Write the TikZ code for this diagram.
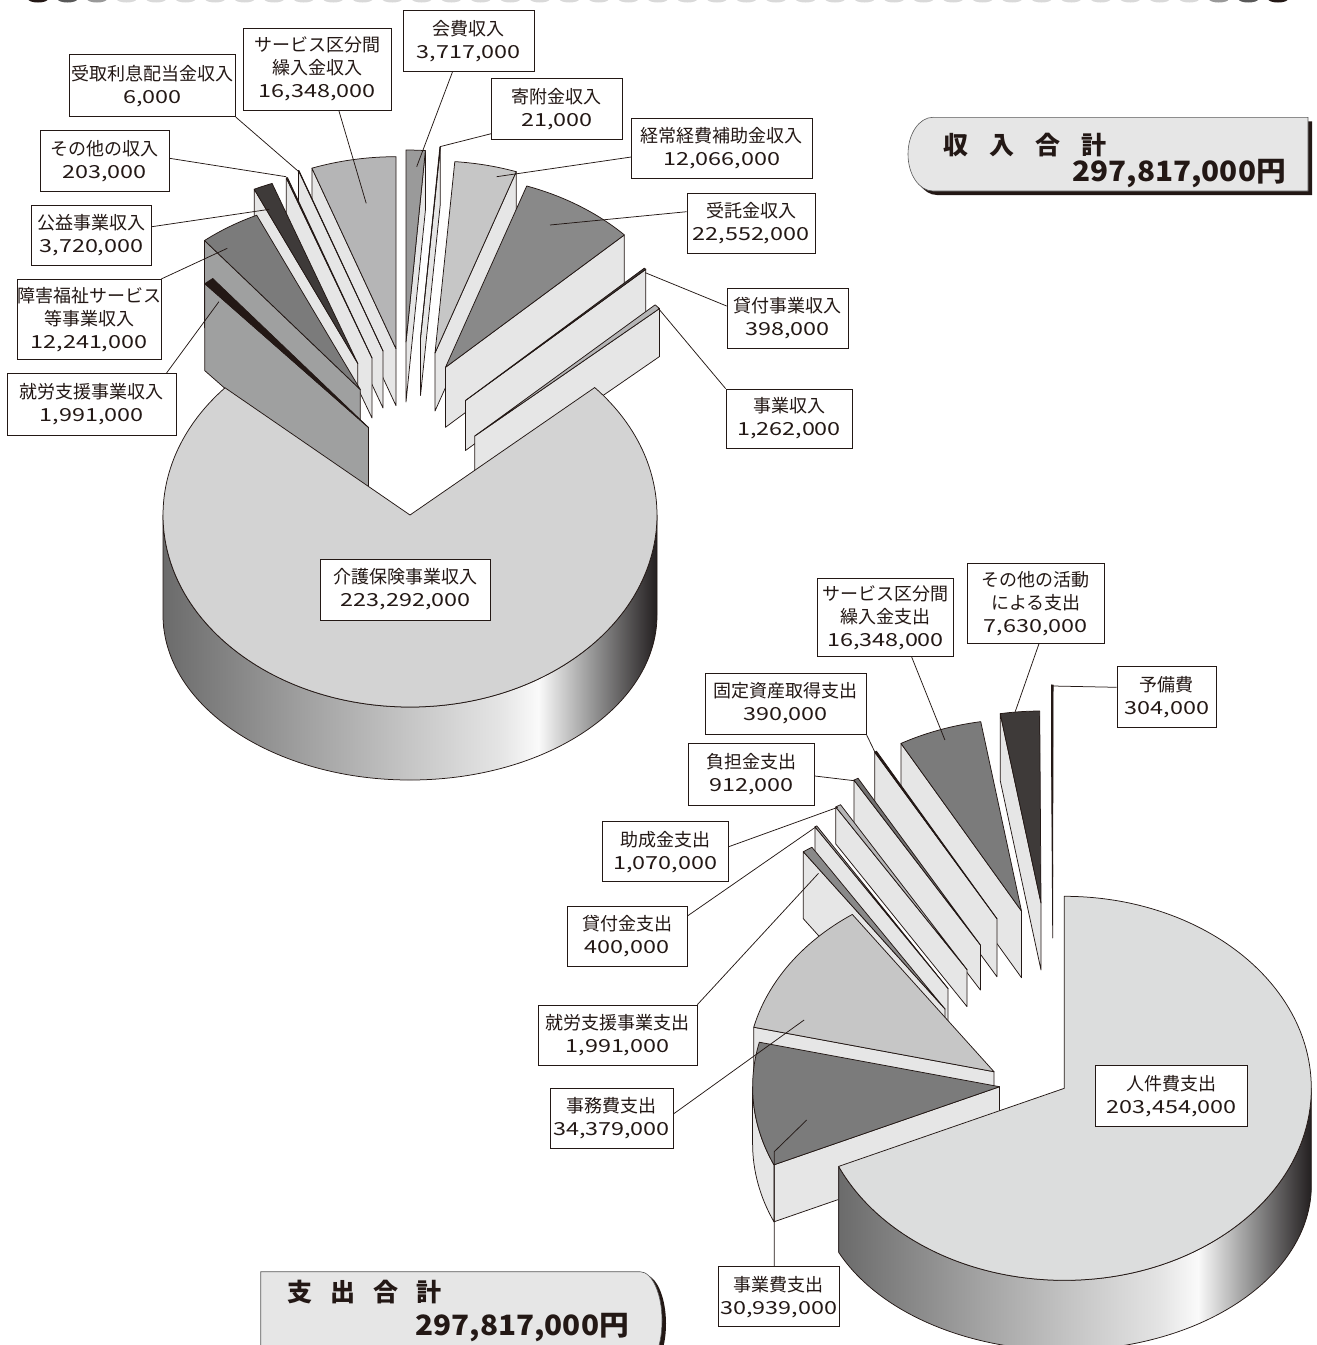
\documentclass[tikz,border=0pt]{standalone}
\usepackage{fontspec}
\setmainfont{Noto Sans CJK JP}
\newfontfamily\numfont[FakeStretch=1.3]{Noto Sans CJK JP}
\newfontfamily\totnum[FakeStretch=1.06]{Noto Sans CJK JP}
\usetikzlibrary{calc}
\definecolor{lc}{HTML}{231815}
\definecolor{panel}{HTML}{E6E6E6}
\definecolor{topA}{HTML}{D3D3D3}
\definecolor{topB}{HTML}{DCDDDD}
\definecolor{g3e}{HTML}{3E3A39}
\definecolor{g72}{HTML}{727171}
\definecolor{g7b}{HTML}{7B7B7B}
\definecolor{g89}{HTML}{898989}
\definecolor{g9a}{HTML}{9A9A9A}
\definecolor{g9f}{HTML}{9FA0A0}
\definecolor{gb5}{HTML}{B5B5B6}
\definecolor{gc9}{HTML}{C6C6C6}
\definecolor{sA}{HTML}{6B6B6B}
\definecolor{sB}{HTML}{A3A3A3}
\definecolor{sC}{HTML}{C6C6C6}
\definecolor{sD}{HTML}{E4E4E4}
\definecolor{sE}{HTML}{FAFAFA}
\definecolor{sF}{HTML}{959595}
\definecolor{sG}{HTML}{231F20}
\pgfdeclarehorizontalshading{pieside}{100bp}{color(0bp)=(sA); color(25bp)=(sA); color(40bp)=(sB); color(50bp)=(sC); color(59bp)=(sD); color(63bp)=(sE); color(68.5bp)=(sF); color(75bp)=(sG); color(100bp)=(sG)}
\newcommand\PTop[5]{\filldraw[pline,fill=#5] (#1,#2) -- ++(#3:247 and 192) arc[start angle=#3,end angle=#4,x radius=247,y radius=192] -- cycle;}
\newcommand\PSide[5]{\filldraw[pline,fill=#5] (#1,#2) -- ++(#3:247 and 192) -- ++(0,#4) -- (#1,{#2+#4}) -- cycle;}
\newcommand\Num[1]{{\numfont #1}}
\tikzset{
  pline/.style={draw=lc, line width=0.75pt, line join=round},
  lbl/.style={draw=lc, fill=white, line width=0.75pt, inner sep=0pt, align=center, text=lc, font=\fontsize{18}{23}\selectfont},
  ldr/.style={draw=lc, line width=0.75pt},
  totbox/.style={fill=panel, draw=black!65, line width=0.6pt},
  totshadow/.style={fill=lc},
  tottitle/.style={text=lc, inner sep=0pt, font=\fontsize{25}{28}\selectfont\bfseries},
  totnumber/.style={text=lc, inner sep=0pt, font=\fontsize{28}{30}\selectfont\totnum\bfseries},
  dot/.style={x radius=10, y radius=3.5},
}
\begin{document}
\begin{tikzpicture}[x=1pt,y=-1pt]
\useasboundingbox (0,0) rectangle (1317,1345);
% ---------- top dotted row ----------
\foreach \i in {3,...,39} \fill[black!15] ({38+29.52*\i},-1) ellipse[dot];
\fill[lc] (38,-1) ellipse[dot];
\fill[black!65] (67.5,-1) ellipse[dot];
\fill[black!40] (97,-1) ellipse[dot];
\fill[black!40] ({38+29.52*40},-1) ellipse[dot];
\fill[black!65] ({38+29.52*41},-1) ellipse[dot];
\fill[lc] (1278,-1) ellipse[dot];

% ================= INCOME PIE =================
\PSide{420.5}{338.5}{274.6}{57}{panel}
\PTop{420.5}{338.5}{274.5}{274.6}{lc}
\PSide{406}{342}{274.5}{60}{panel}
\PTop{406}{342}{270}{274.5}{g9a}
\PSide{396}{348.7}{250.1}{57}{panel}
\PTop{396}{348.7}{250.1}{270}{gb5}
\PSide{383}{351}{250.0}{57}{panel}
\PTop{383}{351}{250.0}{250.1}{lc}
\PSide{435}{353}{289.2}{58}{panel}
\PTop{435}{353}{274.6}{289.2}{gc9}
\PSide{372}{358}{249.7}{60}{panel}
\PTop{372}{358}{249.7}{250.0}{g3e}
\PSide{357.8}{363.5}{245.2}{60}{panel}
\PTop{357.8}{363.5}{245.2}{249.7}{g3e}
\PSide{445.5}{367.3}{316.4}{60}{panel}
\PTop{445.5}{367.3}{289.2}{316.4}{g89}
\PSide{360.3}{389.5}{230.9}{87}{g9f}
\PTop{360.3}{389.5}{230.9}{245.2}{g7b}
\PSide{465.5}{400.5}{316.9}{50}{panel}
\PTop{465.5}{400.5}{316.4}{316.9}{g3e}
\PSide{368.5}{427.5}{228.5}{87}{g9f}
\PTop{368.5}{427.5}{228.5}{230.9}{lc}
\PSide{474.8}{436}{318.4}{48}{panel}
\PTop{474.8}{436}{316.9}{318.4}{gb5}
% main slice
\shadedraw[pline, shading=pieside] (163,515) arc[start angle=180,end angle=0,x radius=247,y radius=192] -- (657,615) arc[start angle=0,end angle=180,x radius=247,y radius=165] -- cycle;
\filldraw[pline, fill=topA] (410,515) -- ++(318.4:247 and 192) arc[start angle=318.4,end angle=581.5,x radius=247,y radius=192] -- cycle;

% leader end points (income)
\coordinate (e-rishi) at (298.8,171.7);
\coordinate (e-svc) at (366.2,203.3);
\coordinate (e-kaihi) at (416.7,166.7);
\coordinate (e-kifu) at (439.8,146.7);
\coordinate (e-keijo) at (496.6,176.7);
\coordinate (e-jutaku) at (550,225);
\coordinate (e-kashi) at (645.3,272.7);
\coordinate (e-kjigyo) at (658.3,308.3);
\coordinate (e-sonota) at (286.2,176.7);
\coordinate (e-koeki) at (269.4,209.3);
\coordinate (e-shogai) at (227.3,248.3);
\coordinate (e-shuro) at (218.9,301.7);

% labels (income)
\node[lbl, minimum width=166, minimum height=62] (rishi) at (152.5,85.8) {受取利息配当金収入\\\Num{6,000}};
\node[lbl, minimum width=148, minimum height=81.7] (svc) at (317.4,69.2) {サービス区分間\\繰入金収入\\\Num{16,348,000}};
\node[lbl, minimum width=131.3, minimum height=61.7] (kaihi) at (468.9,40.9) {会費収入\\\Num{3,717,000}};
\node[lbl, minimum width=130.4, minimum height=61] (kifu) at (556.8,108.8) {寄附金収入\\\Num{21,000}};
\node[lbl, minimum width=180.5, minimum height=60] (keijo) at (721.8,148.3) {経常経費補助金収入\\\Num{12,066,000}};
\node[lbl, minimum width=128, minimum height=60] (jutaku) at (751,223.3) {受託金収入\\\Num{22,552,000}};
\node[lbl, minimum width=121, minimum height=60] (kashi) at (787.5,318) {貸付事業収入\\\Num{398,000}};
\node[lbl, minimum width=126, minimum height=59] (kjigyo) at (789,418.5) {事業収入\\\Num{1,262,000}};
\node[lbl, minimum width=129.2, minimum height=60.3] (sonota) at (104.6,160.9) {その他の収入\\\Num{203,000}};
\node[lbl, minimum width=120, minimum height=60.7] (koeki) at (91.5,235.3) {公益事業収入\\\Num{3,720,000}};
\node[lbl, minimum width=131.8, minimum height=80] (shogai) at (89,319.3) {障害福祉サービス\\等事業収入\\\Num{12,241,000}};
\node[lbl, minimum width=168.4, minimum height=61.7] (shuro) at (91.8,404.2) {就労支援事業収入\\\Num{1,991,000}};
\node[lbl, minimum width=170.3, minimum height=61] (kaigo) at (405.6,589.5) {介護保険事業収入\\\Num{223,292,000}};

\draw[ldr] (rishi.south east) -- (e-rishi);
\draw[ldr] ([xshift=21.4pt]svc.south) -- (e-svc);
\draw[ldr] ([xshift=-16.5pt]kaihi.south) -- (e-kaihi);
\draw[ldr] ([yshift=6pt]kifu.south west) -- (e-kifu);
\draw[ldr] ([yshift=-8.7pt]keijo.west) -- (e-keijo);
\draw[ldr] ([yshift=11.6pt]jutaku.west) -- (e-jutaku);
\draw[ldr] ([yshift=12pt]kashi.west) -- (e-kashi);
\draw[ldr] (kjigyo.north west) -- (e-kjigyo);
\draw[ldr] ([yshift=2.6pt]sonota.east) -- (e-sonota);
\draw[ldr] ([yshift=8.6pt]koeki.east) -- (e-koeki);
\draw[ldr] (shogai.north east) -- (e-shogai);
\draw[ldr] ([xshift=-9.8pt]shuro.north east) -- (e-shuro);

% income total
\begin{scope}[shift={(4,4)}]
\path[totshadow] (933,117.3) -- (1308,117.3) -- (1308,191) -- (933,191) arc[start angle=90,end angle=270,x radius=25,y radius=36.85] -- cycle;
\end{scope}
\path[totbox] (933,117.3) -- (1308,117.3) -- (1308,191) -- (933,191) arc[start angle=90,end angle=270,x radius=25,y radius=36.85] -- cycle;
\node[tottitle, anchor=west] (intitle) at (943,145) {収\kern21pt入\kern21pt合\kern21pt計};
\node[totnumber, anchor=east] (innum) at (1286,174) {297,817,000円};

% ================= EXPENDITURE PIE =================
\PSide{1052.7}{877}{269.7}{61}{panel}
\PTop{1052.7}{877}{269.7}{270.1}{lc}
\PSide{1041}{903}{260.5}{67}{panel}
\PTop{1041}{903}{260.5}{269.7}{g3e}
\PSide{1021.5}{911}{240.8}{66.7}{panel}
\PTop{1021.5}{911}{240.8}{260.5}{g7b}
\PSide{997}{918.8}{240.3}{58}{panel}
\PTop{997}{918.8}{240.3}{240.8}{lc}
\PSide{980.4}{945}{239.2}{45}{panel}
\PTop{980.4}{945}{239.2}{240.3}{g72}
\PSide{967}{969.6}{237.9}{37}{panel}
\PTop{967}{969.6}{237.9}{239.2}{gb5}
\PSide{948}{988.5}{237.4}{34.5}{panel}
\PTop{948}{988.5}{237.4}{237.9}{g9f}
\PSide{945}{1009}{235}{67}{panel}
\PTop{945}{1009}{235}{237.4}{g89}
\PSide{994}{1071.7}{193.4}{57}{panel}
\PTop{994}{1071.7}{193.4}{235}{gc9}
\PSide{999.6}{1086.7}{156}{57}{panel}
\filldraw[pline, fill=panel] (999.6,1086.7) ++(156:247 and 192) arc[start angle=156,end angle=180,x radius=247,y radius=192] -- ++(0,57) arc[start angle=180,end angle=156,x radius=247,y radius=192] -- cycle;
\PTop{999.6}{1086.7}{156}{193.4}{g7b}
% main slice
\shadedraw[pline, shading=pieside] (1311.3,1088.3) arc[start angle=0,end angle=156,x radius=247,y radius=192] -- (838.7,1252.4) arc[start angle=156,end angle=0,x radius=247,y radius=165] -- cycle;
\filldraw[pline, fill=topB] (1064.3,1088.3) -- ++(-90:247 and 192) arc[start angle=-90,end angle=156,x radius=247,y radius=192] -- cycle;

% leader end points (expenditure)
\coordinate (e-svc2) at (944.9,740);
\coordinate (e-katsudo) at (1015.2,711.7);
\coordinate (e-yobi) at (1052.7,686);
\coordinate (e-kotei) at (875.2,752.7);
\coordinate (e-futan) at (854.3,780.7);
\coordinate (e-josei) at (837.7,807.3);
\coordinate (e-kashitsuke) at (816.2,826.7);
\coordinate (e-shuro2) at (818.5,873.3);
\coordinate (e-jimu) at (804.1,1020);
\coordinate (k-jigyo2) at (774.2,1151.7);
\coordinate (e-jigyo2) at (806.7,1120);

\node[lbl, minimum width=136.6, minimum height=78.4] (svc2) at (885.5,617.5) {サービス区分間\\繰入金支出\\\Num{16,348,000}};
\node[lbl, minimum width=137.6, minimum height=80] (katsudo) at (1035.9,603.3) {その他の活動\\による支出\\\Num{7,630,000}};
\node[lbl, minimum width=99.5, minimum height=61.3] (yobi) at (1166.8,696.7) {予備費\\\Num{304,000}};
\node[lbl, minimum width=161, minimum height=61] (kotei) at (785.5,703.5) {固定資産取得支出\\\Num{390,000}};
\node[lbl, minimum width=126.5, minimum height=61.7] (futan) at (751.3,774.2) {負担金支出\\\Num{912,000}};
\node[lbl, minimum width=126.3, minimum height=60] (josei) at (665.2,851.7) {助成金支出\\\Num{1,070,000}};
\node[lbl, minimum width=120, minimum height=60] (kashitsuke) at (627,936) {貸付金支出\\\Num{400,000}};
\node[lbl, minimum width=159, minimum height=60] (shuro2) at (617.5,1035) {就労支援事業支出\\\Num{1,991,000}};
\node[lbl, minimum width=123, minimum height=60] (jimu) at (611.5,1118) {事務費支出\\\Num{34,379,000}};
\node[lbl, minimum width=121.7, minimum height=60] (jigyo2) at (778.9,1296.7) {事業費支出\\\Num{30,939,000}};
\node[lbl, minimum width=151.6, minimum height=61] (jinken) at (1171.6,1096.2) {人件費支出\\\Num{203,454,000}};

\draw[ldr] ([xshift=26.2pt]svc2.south) -- (e-svc2);
\draw[ldr] ([xshift=3.1pt]katsudo.south) -- (e-katsudo);
\draw[ldr] ([yshift=9.4pt]yobi.west) -- (e-yobi);
\draw[ldr] (kotei.south east) -- (e-kotei);
\draw[ldr] ([yshift=-1.8pt]futan.east) -- (e-futan);
\draw[ldr] ([yshift=5pt]josei.east) -- (e-josei);
\draw[ldr] ([yshift=20pt]kashitsuke.east) -- (e-kashitsuke);
\draw[ldr] (shuro2.north east) -- (e-shuro2);
\draw[ldr] ([yshift=4pt]jimu.east) -- (e-jimu);
\draw[ldr] ([xshift=-4.7pt]jigyo2.north) -- (k-jigyo2) -- (e-jigyo2);

% expenditure total
\begin{scope}[shift={(4,3)}]
\path[totshadow] (260.7,1271.7) -- (640,1271.7) arc[start angle=270,end angle=450,x radius=22,y radius=49] -- (260.7,1369.7) -- cycle;
\end{scope}
\path[totbox] (260.7,1271.7) -- (640,1271.7) arc[start angle=270,end angle=450,x radius=22,y radius=49] -- (260.7,1369.7) -- cycle;
\node[tottitle, anchor=west] (outtitle) at (287,1292) {支\kern18pt出\kern18pt合\kern18pt計};
\node[totnumber, anchor=east] (outnum) at (629,1328) {297,817,000円};
\end{tikzpicture}
\end{document}
